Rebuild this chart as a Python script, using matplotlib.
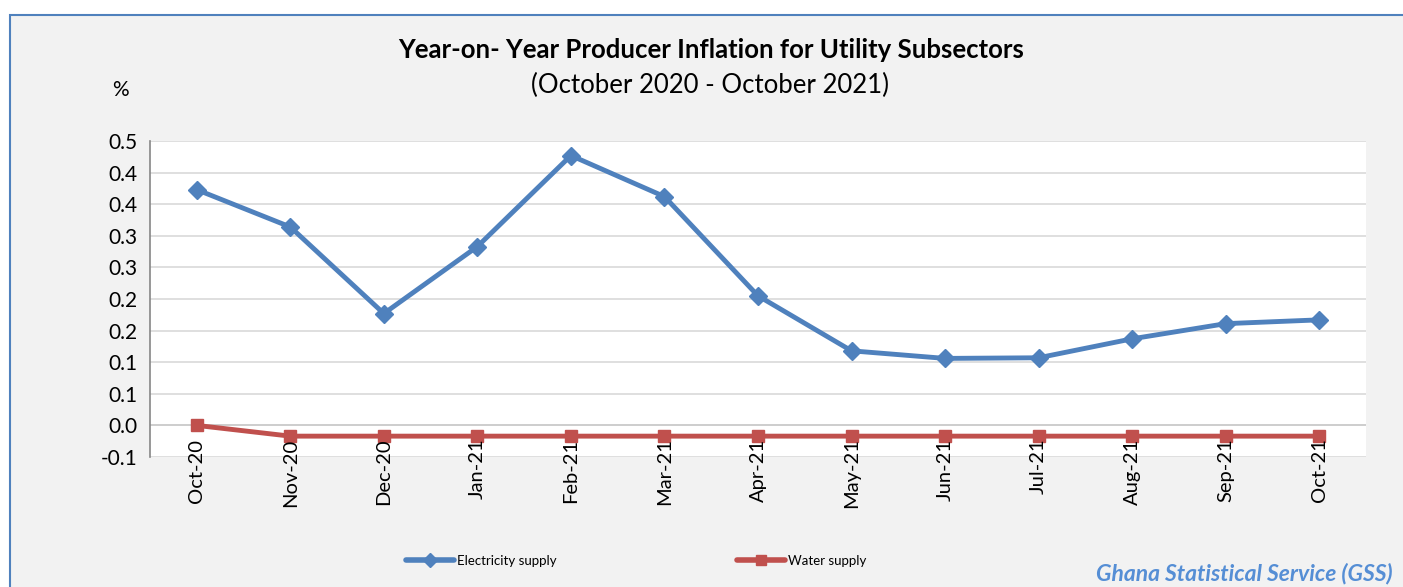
import matplotlib
matplotlib.use("Agg")
import matplotlib.pyplot as plt
from matplotlib.lines import Line2D
from matplotlib.patches import Rectangle
from matplotlib.ticker import FuncFormatter, MultipleLocator
import decimal

plt.rcParams['font.family'] = ['Lato', 'DejaVu Sans']

months = ["Oct-20", "Nov-20", "Dec-20", "Jan-21", "Feb-21", "Mar-21", "Apr-21",
          "May-21", "Jun-21", "Jul-21", "Aug-21", "Sep-21", "Oct-21"]
electricity = [0.373, 0.314, 0.177, 0.283, 0.427, 0.362, 0.205,
               0.118, 0.106, 0.107, 0.137, 0.161, 0.167]
water = [0.0, -0.017, -0.017, -0.017, -0.017, -0.017, -0.017,
         -0.017, -0.017, -0.017, -0.017, -0.017, -0.017]

W, H = 1403, 587
fig = plt.figure(figsize=(W / 100, H / 100), dpi=100)
fig.patch.set_facecolor('white')

bg = Rectangle((10 / W, -0.1), 1.2, 1 - 15 / H + 0.1, transform=fig.transFigure,
               facecolor='#F2F2F2', edgecolor='#4F81BD', linewidth=1.5, zorder=-10)
fig.add_artist(bg)

left, right, top, bottom = 150, 1366, 141, 457
ax = fig.add_axes([left / W, 1 - bottom / H, (right - left) / W, (bottom - top) / H])
ax.set_facecolor('white')

x = list(range(len(months)))
blue = '#4F81BD'
red = '#C0504D'
ax.plot(x, electricity, color=blue, linewidth=3.5, marker='D', markersize=9.5,
        zorder=3, label='Electricity supply', clip_on=False)
ax.plot(x, water, color=red, linewidth=3.5, marker='s', markersize=9,
        zorder=3, label='Water supply', clip_on=False)

ax.set_xlim(-0.5, len(months) - 0.5)
ax.set_ylim(-0.05, 0.45)
ax.yaxis.set_major_locator(MultipleLocator(0.05))


def fmt(v, pos):
    d = decimal.Decimal(str(round(v, 4))).quantize(decimal.Decimal('0.1'),
                                                   rounding=decimal.ROUND_HALF_UP)
    s = f"{d:.1f}"
    return "0.0" if s == "-0.0" else s


ax.yaxis.set_major_formatter(FuncFormatter(fmt))
ax.grid(axis='y', color='#D9D9D9', linewidth=1.2, zorder=0)
ax.axhline(0, color='#868686', linewidth=1.2, zorder=1)
ax.set_xticks([])
for i, m in enumerate(months):
    ax.annotate(m, xy=(i, 0), xycoords='data', xytext=(0, -9.5),
                textcoords='offset points', rotation=90, ha='center', va='top',
                fontsize=14.5, color='black')
ax.tick_params(axis='y', labelsize=15, length=0, pad=9)
for s in ['top', 'right', 'bottom']:
    ax.spines[s].set_visible(False)
ax.spines['left'].set_color('#868686')
ax.spines['left'].set_linewidth(1.2)

fig.text(711 / W, 1 - 50 / H, "Year-on- Year Producer Inflation for Utility Subsectors",
         ha='center', va='center', fontsize=18.5, fontweight='bold', color='black')
fig.text(710 / W, 1 - 85 / H, "(October 2020 - October 2021)",
         ha='center', va='center', fontsize=18.5, color='black')
fig.text(120 / W, 1 - 90 / H, "%", ha='center', va='center', fontsize=15)

h1 = Line2D([], [], color=blue, linewidth=4, marker='D', markersize=7,
            solid_capstyle='round')
h2 = Line2D([], [], color=red, linewidth=4, marker='s', markersize=7,
            solid_capstyle='round')
fig.legend([h1], ['Electricity supply'], loc='center left',
           bbox_to_anchor=(406 / W, 1 - 561 / H), frameon=False,
           fontsize=9.5, handlelength=3.6, handletextpad=0.25,
           borderpad=0, borderaxespad=0)
fig.legend([h2], ['Water supply'], loc='center left',
           bbox_to_anchor=(737 / W, 1 - 561 / H), frameon=False,
           fontsize=9.5, handlelength=3.6, handletextpad=0.25,
           borderpad=0, borderaxespad=0)

fig.text(1393 / W, 1 - 574 / H, "Ghana Statistical Service (GSS)", ha='right',
         va='center', fontsize=16.5, fontstyle='italic', fontweight='bold',
         color='#558ED5')

fig.savefig("out.png", dpi=100)
